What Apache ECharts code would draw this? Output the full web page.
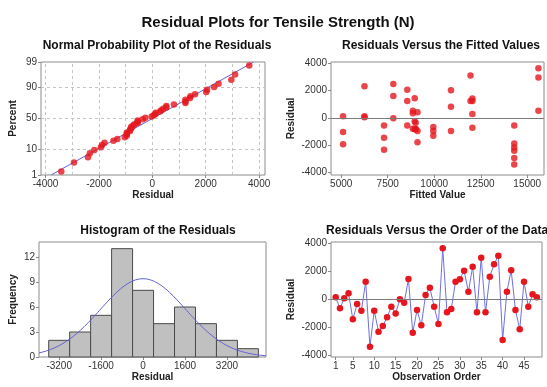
<!DOCTYPE html>
<html><head><meta charset="utf-8">
<script src="https://cdn.jsdelivr.net/npm/echarts@6/dist/echarts.min.js"></script>
<style>html,body{margin:0;padding:0;background:#fff}#c{width:547px;height:387px}</style>
</head><body><div id="c"></div>
<script>
// ---- data ----
const residuals = [120,-670,50,405,-1455,-360,-835,1240,-3410,-835,-2340,-1930,-1310,-550,-1030,-25,-260,1430,-2410,-790,
  -1880,290,810,-550,-1790,3630,-955,-715,1240,1410,2020,525,2315,-955,2960,-955,1600,2480,3100,-2935,
  525,2050,-790,-2170,1240,-550,335,120];
const fittedValues = [5100,9950,6250,9100,7300,9000,8950,12050,14300,9000,7300,5100,9950,7300,5100,7800,8950,8950,14300,9000,
  14300,12050,10900,8550,9100,15600,9950,12050,11950,12050,10900,15600,6250,10900,15600,9100,7800,7800,11950,14300,
  8850,8550,8850,14300,8550,14300,8850,6250];
const histBinCenters = [-3200,-2400,-1600,-800,0,800,1600,2400,3200,4000];
const histCounts = [2,3,5,13,8,4,6,4,2,1];
const histBinWidth = 800;
const percentTicks = [1,10,50,90,99];
const percentGrid = [10,50,90];
const npResidTicks = [-4000,-2000,0,2000,4000];
const npGridX = [-4000,-3000,-2000,-1000,0,1000,2000,3000,4000];
const fittedTicks = [5000,7500,10000,12500,15000];
const residTicks = [-4000,-2000,0,2000,4000];
const histXTicks = [-3200,-1600,0,1600,3200];
const histYTicks = [0,3,6,9,12];
const orderTicks = [1,5,10,15,20,25,30,35,40,45];
const residMean = 0, residSd = 1630;

// ---- helpers ----
function invNorm(p){
  const a=[-3.969683028665376e+01,2.209460984245205e+02,-2.759285104469687e+02,1.383577518672690e+02,-3.066479806614716e+01,2.506628277459239e+00];
  const b=[-5.447609879822406e+01,1.615858368580409e+02,-1.556989798598866e+02,6.680131188771972e+01,-1.328068155288572e+01];
  const c=[-7.784894002430293e-03,-3.223964580411365e-01,-2.400758277161838e+00,-2.549732539343734e+00,4.374664141464968e+00,2.938163982698783e+00];
  const d=[7.784695709041462e-03,3.224671290700398e-01,2.445134137142996e+00,3.754408661907416e+00];
  const pl=0.02425, ph=1-pl; let q,r;
  if(p<pl){q=Math.sqrt(-2*Math.log(p));return (((((c[0]*q+c[1])*q+c[2])*q+c[3])*q+c[4])*q+c[5])/((((d[0]*q+d[1])*q+d[2])*q+d[3])*q+1);}
  if(p>ph){q=Math.sqrt(-2*Math.log(1-p));return -(((((c[0]*q+c[1])*q+c[2])*q+c[3])*q+c[4])*q+c[5])/((((d[0]*q+d[1])*q+d[2])*q+d[3])*q+1);}
  q=p-0.5;r=q*q;return (((((a[0]*r+a[1])*r+a[2])*r+a[3])*r+a[4])*r+a[5])*q/(((((b[0]*r+b[1])*r+b[2])*r+b[3])*r+b[4])*r+1);
}
const n = residuals.length;
const sorted = residuals.slice().sort((x,y)=>x-y);
const npData = sorted.map((r,i)=>[r, invNorm((i+1-0.3)/(n+0.4))]);
const zLo = invNorm(0.01), zHi = invNorm(0.99);
const fitLine = [[residMean+residSd*zLo, zLo],[residMean+residSd*zHi, zHi]];
const histXMin=-3970, histXMax=4690;
const curve=[];
for(let k=0;k<=120;k++){const x=histXMin+(histXMax-histXMin)*k/120;
  curve.push([x, n*histBinWidth/(residSd*Math.sqrt(2*Math.PI))*Math.exp(-0.5*Math.pow((x-residMean)/residSd,2))]);}

const RED='#e5161d', BLUE='#6262d8';
const FONT='Liberation Sans';
const plain=v=>String(Math.round(v));
const lab={fontFamily:FONT,fontSize:10,color:'#333',margin:4,formatter:plain};
const nameSt={fontFamily:FONT,fontSize:10,fontWeight:'bold',color:'#222'};
const tick={show:true,inside:false,length:3,lineStyle:{color:'#888'}};
function valAxis(o){
  return Object.assign({type:'value',axisLine:{show:false,onZero:false},splitLine:{show:false},
    nameLocation:'middle',nameTextStyle:nameSt},o);
}
const zeroLine={silent:true,symbol:['none','none'],label:{show:false},animation:false,
  lineStyle:{color:'#7a7a7a',width:1,type:'solid'},data:[{yAxis:0}]};

const chart=echarts.init(document.getElementById('c'),null,{renderer:'canvas'});
chart.setOption({
  animation:false,
  backgroundColor:'#fff',
  title:[
    {text:'Residual Plots for Tensile Strength (N)',left:273,top:10,textAlign:'center',textStyle:{fontFamily:FONT,fontSize:15,fontWeight:'bold',color:'#111'}},
    {text:'Normal Probability Plot of the Residuals',left:152,top:35,textAlign:'center',textStyle:{fontFamily:FONT,fontSize:12,fontWeight:'bold',color:'#111'}},
    {text:'Residuals Versus the Fitted Values',left:436,top:35,textAlign:'center',textStyle:{fontFamily:FONT,fontSize:12,fontWeight:'bold',color:'#111'}},
    {text:'Histogram of the Residuals',left:153,top:220,textAlign:'center',textStyle:{fontFamily:FONT,fontSize:12,fontWeight:'bold',color:'#111'}},
    {text:'Residuals Versus the Order of the Data',left:321,top:220,textStyle:{fontFamily:FONT,fontSize:12,fontWeight:'bold',color:'#111'}}
  ],
  grid:[
    {left:41,top:62,width:224,height:113,show:true,borderColor:'#8c8c8c',borderWidth:1},
    {left:331,top:62,width:213,height:113,show:true,borderColor:'#8c8c8c',borderWidth:1},
    {left:39,top:242,width:227,height:115,show:true,borderColor:'#8c8c8c',borderWidth:1},
    {left:331,top:242,width:211,height:115,show:true,borderColor:'#8c8c8c',borderWidth:1}
  ],
  xAxis:[
    valAxis({gridIndex:0,min:-4170,max:4220,name:'Residual',nameGap:15,
      axisLabel:Object.assign({},lab,{customValues:npResidTicks}),axisTick:Object.assign({customValues:npResidTicks},tick)}),
    valAxis({gridIndex:1,min:4450,max:15900,name:'Fitted Value',nameGap:15,
      axisLabel:Object.assign({},lab,{customValues:fittedTicks}),axisTick:Object.assign({customValues:fittedTicks},tick)}),
    valAxis({gridIndex:2,min:histXMin,max:histXMax,name:'Residual',nameGap:15,
      axisLabel:Object.assign({},lab,{customValues:histXTicks}),axisTick:Object.assign({customValues:histXTicks},tick)}),
    valAxis({gridIndex:3,min:-0.1,max:49.2,name:'Observation Order',nameGap:15,
      axisLabel:Object.assign({},lab,{customValues:orderTicks}),axisTick:Object.assign({customValues:orderTicks},tick)})
  ],
  yAxis:[
    valAxis({gridIndex:0,min:zLo,max:zHi,name:'Percent',nameGap:23,
      axisLabel:Object.assign({},lab,{customValues:percentTicks.map(p=>invNorm(p/100)),
        formatter:v=>{let best=percentTicks[0];percentTicks.forEach(p=>{if(Math.abs(invNorm(p/100)-v)<Math.abs(invNorm(best/100)-v))best=p;});return String(best);}}),
      axisTick:Object.assign({customValues:percentTicks.map(p=>invNorm(p/100))},tick)}),
    valAxis({gridIndex:1,min:-4180,max:4090,name:'Residual',nameGap:35,
      axisLabel:Object.assign({},lab,{customValues:residTicks}),axisTick:Object.assign({customValues:residTicks},tick)}),
    valAxis({gridIndex:2,min:0,max:13.8,name:'Frequency',nameGap:21,
      axisLabel:Object.assign({},lab,{customValues:histYTicks}),axisTick:Object.assign({customValues:histYTicks},tick)}),
    valAxis({gridIndex:3,min:-4150,max:4080,name:'Residual',nameGap:35,
      axisLabel:Object.assign({},lab,{customValues:residTicks}),axisTick:Object.assign({customValues:residTicks},tick)})
  ],
  series:[
    {type:'line',xAxisIndex:0,yAxisIndex:0,data:fitLine,symbol:'none',z:2,silent:true,
      lineStyle:{color:BLUE,width:1},
      markLine:{silent:true,symbol:['none','none'],label:{show:false},z:1,
        lineStyle:{color:'#c4c4c4',width:1,type:[3,3]},
        data:npGridX.map(v=>({xAxis:v})).concat(percentGrid.map(p=>({yAxis:invNorm(p/100)})))}},
    {type:'scatter',xAxisIndex:0,yAxisIndex:0,data:npData,symbol:'circle',symbolSize:6.5,z:3,
      itemStyle:{color:RED}},
    {type:'scatter',xAxisIndex:1,yAxisIndex:1,data:fittedValues.map((f,i)=>[f,residuals[i]]),symbol:'circle',symbolSize:6.5,z:3,
      itemStyle:{color:RED},markLine:zeroLine},
    {type:'custom',xAxisIndex:2,yAxisIndex:2,z:2,
      data:histBinCenters.map((c,i)=>[c,histCounts[i]]),
      renderItem:function(params,api){
        const c=api.value(0), h=api.value(1);
        const p0=api.coord([c-histBinWidth/2,h]), p1=api.coord([c+histBinWidth/2,0]);
        return {type:'rect',shape:{x:p0[0],y:p0[1],width:p1[0]-p0[0],height:p1[1]-p0[1]},
          style:{fill:'#c0c0c0',stroke:'#4a4a4a',lineWidth:1}};
      }},
    {type:'line',xAxisIndex:2,yAxisIndex:2,data:curve,symbol:'none',smooth:false,z:3,
      lineStyle:{color:BLUE,width:1}},
    {type:'line',xAxisIndex:3,yAxisIndex:3,data:residuals.map((r,i)=>[i+1,r]),symbol:'circle',symbolSize:6.5,showSymbol:true,z:3,
      lineStyle:{color:'#7070e0',width:1},itemStyle:{color:RED},markLine:zeroLine}
  ]
});
</script></body></html>
